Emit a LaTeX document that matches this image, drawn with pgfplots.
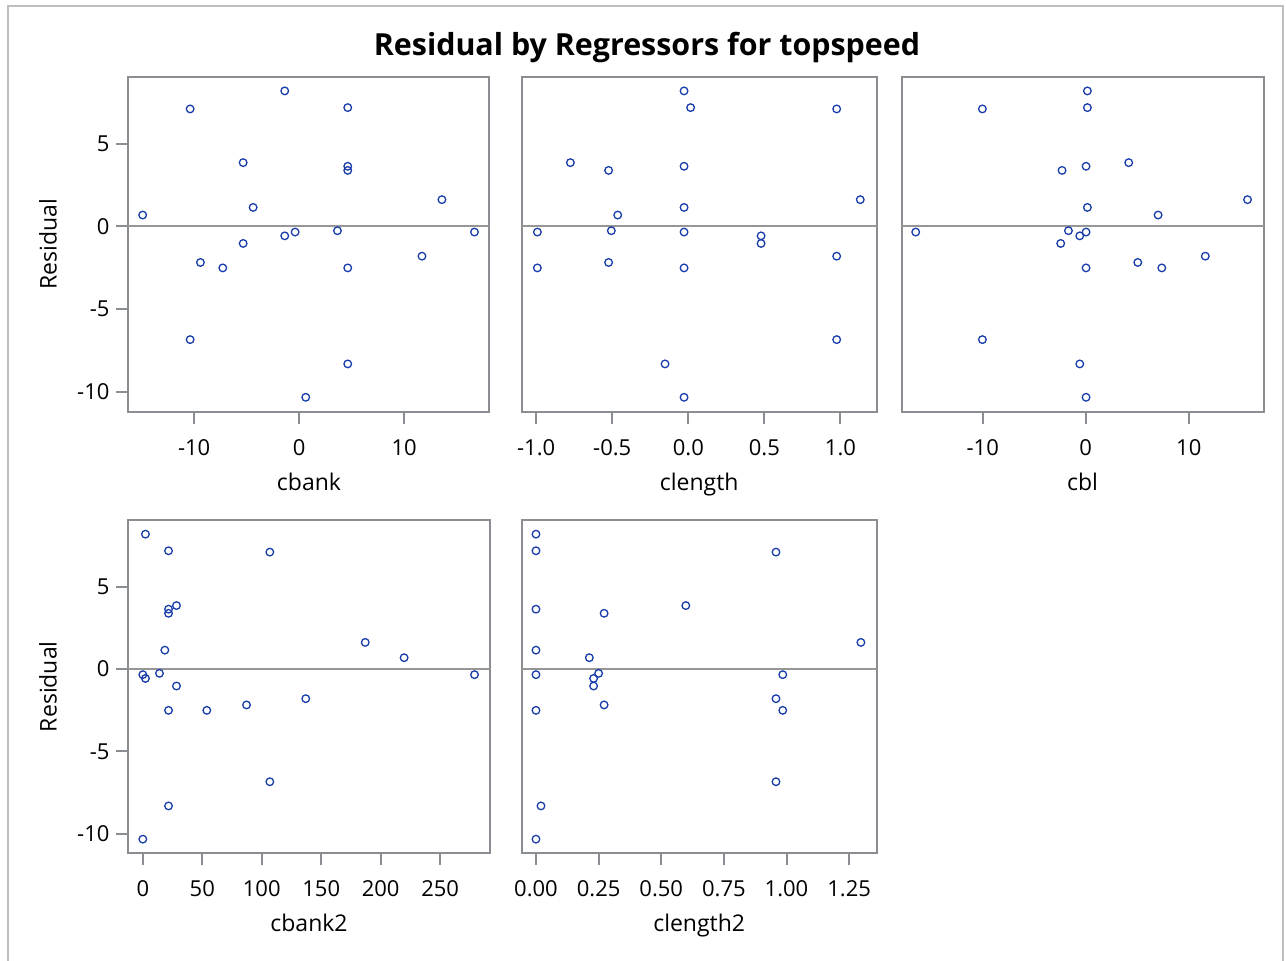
\documentclass[border=0pt]{standalone}
\usepackage{pgfplots}
\pgfplotsset{compat=1.18}
\usepackage{pgfplotstable}
\usepackage{fontspec}
\setmainfont{Open Sans}

\definecolor{framegray}{RGB}{138,141,145}
\definecolor{refgray}{RGB}{150,150,150}
\definecolor{markblue}{RGB}{24,60,170}

% residuals against each regressor
\pgfplotstableread{
cbank clength cbl cbank2 clength2 resid
-1.37 -0.028 0.16 2.2 0.000 8.20
4.63 0.015 0.16 21.6 0.000 7.19
-10.38 0.975 -10.03 106.8 0.958 7.11
-5.33 -0.775 4.17 28.3 0.598 3.86
4.63 -0.028 0.03 21.6 0.000 3.64
4.63 -0.524 -2.30 21.6 0.272 3.39
13.6 1.13 15.7 187.0 1.297 1.62
-4.38 -0.028 0.16 18.5 0.000 1.15
-14.9 -0.464 7.02 219.7 0.213 0.69
3.65 -0.506 -1.68 14.0 0.250 -0.26
-0.38 -0.028 0.03 0.0 0.000 -0.34
16.7 -0.992 -16.5 278.9 0.985 -0.34
-1.37 0.478 -0.58 2.2 0.230 -0.57
-5.33 0.478 -2.43 28.3 0.230 -1.03
11.7 0.975 11.6 137.0 0.958 -1.80
-9.40 -0.524 5.05 87.2 0.272 -2.18
-7.27 -0.992 7.38 53.8 0.985 -2.51
4.63 -0.028 0.03 21.6 0.000 -2.51
-10.38 0.975 -10.03 106.8 0.958 -6.85
4.63 -0.153 -0.58 21.6 0.020 -8.32
0.63 -0.028 0.03 0.0 0.000 -10.34
}\resid

\pgfplotsset{
  resplot/.style={
    scale only axis,
    anchor=north west,
    ymin=-11.2, ymax=9.06,
    axis line style={draw=framegray, line width=1pt},
    tick style={draw=framegray, line width=1pt},
    tick align=outside,
    major tick length=6pt,
    xtick pos=bottom, ytick pos=left,
    ytick={-10,-5,0,5},
    tick label style={font=\fontsize{11}{13}\selectfont},
    xticklabel style={yshift=-4.25pt},
    label style={font=\fontsize{11.5}{13}\selectfont},
    /pgf/number format/assume math mode=true,
    xlabel style={at={(axis description cs:0.5,0)}, anchor=base, yshift=-39.25pt},
    ylabel style={at={(axis description cs:0,0.5)}, anchor=base, yshift=35.9pt},
    clip=false,
  },
  noy/.style={ytick=\empty},
  pts/.style={only marks, mark=o, mark size=1.9pt, draw=markblue, mark options={line width=0.65pt}},
}
\newcommand\zeroline{\draw[refgray, line width=1pt] ({rel axis cs:0,0}|-{axis cs:0,0}) -- ({rel axis cs:1,0}|-{axis cs:0,0});}

\begin{document}
\begin{tikzpicture}
\useasboundingbox (0,0) rectangle (643pt,-480pt);
\draw[black!25, line width=0.6pt] (4pt,-3pt) rectangle (641.5pt,-490pt);
\node[font=\bfseries\fontsize{15.2}{17}\selectfont, anchor=base] at (323.5pt,-27.7pt) {Residual by Regressors for topspeed};

\begin{axis}[resplot, at={(64.25pt,-38.35pt)}, width=180.5pt, height=167.4pt,
  xmin=-16.25, xmax=18.13, xtick={-10,0,10}, xlabel={cbank}, ylabel={Residual}]
  \zeroline
  \addplot[pts] table[x=cbank, y=resid] {\resid};
\end{axis}

\begin{axis}[resplot, noy, at={(260.85pt,-38.35pt)}, width=177.5pt, height=167.4pt,
  xmin=-1.095, xmax=1.238, xtick={-1,-0.5,0,0.5,1},
  xticklabel style={/pgf/number format/.cd, fixed, fixed zerofill, precision=1},
  xlabel={clength}]
  \zeroline
  \addplot[pts] table[x=clength, y=resid] {\resid};
\end{axis}

\begin{axis}[resplot, noy, at={(450.85pt,-38.35pt)}, width=180.9pt, height=167.4pt,
  xmin=-17.86, xmax=17.25, xtick={-10,0,10}, xlabel={cbl}]
  \zeroline
  \addplot[pts] table[x=cbl, y=resid] {\resid};
\end{axis}

\begin{axis}[resplot, at={(64.25pt,-260pt)}, width=180.5pt, height=166.65pt,
  xmin=-12.05, xmax=291.5, xtick={0,50,100,150,200,250}, xlabel={cbank2}, ylabel={Residual}]
  \zeroline
  \addplot[pts] table[x=cbank2, y=resid] {\resid};
\end{axis}

\begin{axis}[resplot, noy, at={(260.85pt,-260pt)}, width=177.5pt, height=166.65pt,
  xmin=-0.057, xmax=1.36, xtick={0,0.25,0.5,0.75,1,1.25},
  xticklabel style={/pgf/number format/.cd, fixed, fixed zerofill, precision=2},
  xlabel={clength2}]
  \zeroline
  \addplot[pts] table[x=clength2, y=resid] {\resid};
\end{axis}
\end{tikzpicture}
\end{document}
